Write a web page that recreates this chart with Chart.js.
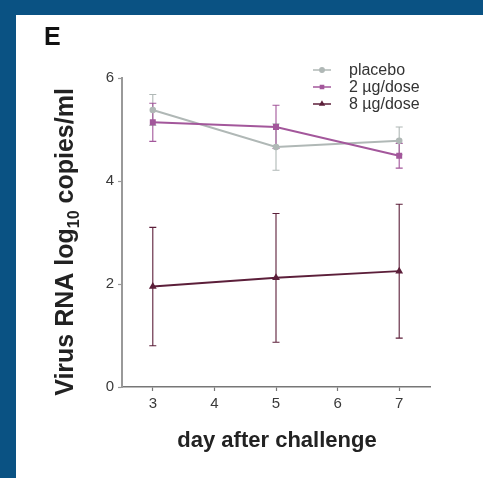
<!DOCTYPE html>
<html>
<head>
<meta charset="utf-8">
<script src="https://cdn.jsdelivr.net/npm/chart.js@4.4.1/dist/chart.umd.min.js"></script>
<style>
  html, body { margin: 0; padding: 0; }
  body { width: 483px; height: 478px; background: #0a5283; position: relative; overflow: hidden; }
  .panel { position: absolute; left: 16px; top: 15px; width: 467px; height: 463px; background: #fff; }
  #wrap { position: absolute; left: 0; top: 0; width: 483px; height: 478px; }
</style>
</head>
<body>
<div class="panel"></div>
<div id="wrap"><canvas id="chart" width="483" height="478"></canvas></div>
<script>
// values
const days = [3, 5, 7];
const xTicks = [3, 4, 5, 6, 7];
const yTicks = [0, 2, 4, 6];
const seriesNames = ['placebo', '2 µg/dose', '8 µg/dose'];
const placebo = [5.38, 4.66, 4.78];
const placeboErr = [0.30, 0.45, 0.27];
const dose2 = [5.14, 5.05, 4.49];
const dose2Err = [0.37, 0.42, 0.24];
const dose8 = [1.95, 2.12, 2.25];
const dose8Err = [1.15, 1.25, 1.30];

const colors = ['#b0b8b6', '#a3579b', '#5c1f3a'];
const styles = ['circle', 'rect', 'triangle'];
const FONT = '"Liberation Sans", Arial, sans-serif';

function pts(vals) {
  return days.map(function(d, i) { return { x: d, y: vals[i] }; });
}

const errs = [placeboErr, dose2Err, dose8Err];

const errorBars = {
  id: 'errorBars',
  beforeDatasetsDraw(chart) {
    const ctx = chart.ctx, ys = chart.scales.y, xs = chart.scales.x;
    chart.data.datasets.forEach(function(ds, di) {
      const e = errs[di];
      ctx.save();
      ctx.strokeStyle = ds.borderColor;
      ctx.lineWidth = 1.1;
      ds.data.forEach(function(p, i) {
        const x = xs.getPixelForValue(p.x);
        const top = ys.getPixelForValue(p.y + e[i]);
        const bot = ys.getPixelForValue(p.y - e[i]);
        ctx.beginPath();
        ctx.moveTo(x, top); ctx.lineTo(x, bot);
        ctx.moveTo(x - 3.5, top); ctx.lineTo(x + 3.5, top);
        ctx.moveTo(x - 3.5, bot); ctx.lineTo(x + 3.5, bot);
        ctx.stroke();
      });
      ctx.restore();
    });
  }
};

const labels = {
  id: 'labels',
  afterDraw(chart) {
    const ctx = chart.ctx;
    ctx.save();
    ctx.fillStyle = '#111';
    ctx.textBaseline = 'alphabetic';
    ctx.font = 'bold 25px ' + FONT;
    ctx.fillText('E', 44, 45);

    // x title
    ctx.fillStyle = '#222';
    ctx.textAlign = 'center';
    ctx.textBaseline = 'middle';
    ctx.font = 'bold 22px ' + FONT;
    ctx.fillText('day after challenge', 277, 441);

    // y title with subscript
    const big = 'bold 25px ' + FONT;
    const small = 'bold 16px ' + FONT;
    const parts = [['Virus RNA log', big, 0], ['10', small, 6], [' copies/ml', big, 0]];
    let total = 0;
    parts.forEach(function(p) { ctx.font = p[1]; total += ctx.measureText(p[0]).width; });
    ctx.translate(73, 242);
    ctx.rotate(-Math.PI / 2);
    ctx.textAlign = 'left';
    ctx.textBaseline = 'alphabetic';
    let x = -total / 2;
    parts.forEach(function(p) {
      ctx.font = p[1];
      ctx.fillText(p[0], x, p[2]);
      x += ctx.measureText(p[0]).width;
    });
    ctx.restore();

    // legend
    ctx.save();
    ctx.font = '16px ' + FONT;
    ctx.textBaseline = 'middle';
    chart.data.datasets.forEach(function(ds, i) {
      const y = 70 + i * 17;
      ctx.strokeStyle = ds.borderColor;
      ctx.lineWidth = 1.5;
      ctx.beginPath();
      ctx.moveTo(313, y); ctx.lineTo(331, y);
      ctx.stroke();
      ctx.fillStyle = ds.borderColor;
      Chart.helpers.drawPoint(ctx, { pointStyle: ds.pointStyle, radius: 2.2, rotation: 0, borderWidth: 1 }, 322, y);
      ctx.fillStyle = '#333';
      ctx.fillText(ds.label, 349, y + 1);
    });
    ctx.restore();
  }
};

new Chart(document.getElementById('chart'), {
  type: 'line',
  data: {
    datasets: [
      { label: seriesNames[0], data: pts(placebo), borderColor: colors[0], backgroundColor: colors[0], pointStyle: styles[0], pointRadius: 2.3, borderWidth: 2, order: 3 },
      { label: seriesNames[1], data: pts(dose2), borderColor: colors[1], backgroundColor: colors[1], pointStyle: styles[1], pointRadius: 2.8, borderWidth: 2, order: 2 },
      { label: seriesNames[2], data: pts(dose8), borderColor: colors[2], backgroundColor: colors[2], pointStyle: styles[2], pointRadius: 2.5, borderWidth: 2, order: 1 }
    ]
  },
  options: {
    responsive: false,
    animation: false,
    layout: { padding: { top: 78, right: 53, left: 0, bottom: 0 } },
    plugins: { legend: { display: false }, tooltip: { enabled: false } },
    scales: {
      x: {
        type: 'linear', min: 2.5, max: 7.5,
        afterBuildTicks: function(s) { s.ticks = xTicks.map(function(v) { return { value: v }; }); },
        afterFit: function(s) { s.height = 91; },
        grid: { drawOnChartArea: false, drawTicks: true, tickLength: 4, color: '#777', tickWidth: 1.2 },
        border: { color: '#777', width: 1.5 },
        ticks: { color: '#3a3a3a', font: { size: 15, family: FONT }, padding: 4 }
      },
      y: {
        min: 0, max: 6,
        afterBuildTicks: function(s) { s.ticks = yTicks.map(function(v) { return { value: v }; }); },
        afterFit: function(s) { s.width = 122; },
        grid: { drawOnChartArea: false, drawTicks: true, tickLength: 4, color: '#999', tickWidth: 1.2 },
        border: { color: '#999', width: 2 },
        ticks: { color: '#3a3a3a', font: { size: 15, family: FONT }, padding: 4 }
      }
    }
  },
  plugins: [errorBars, labels]
});
</script>
</body>
</html>
